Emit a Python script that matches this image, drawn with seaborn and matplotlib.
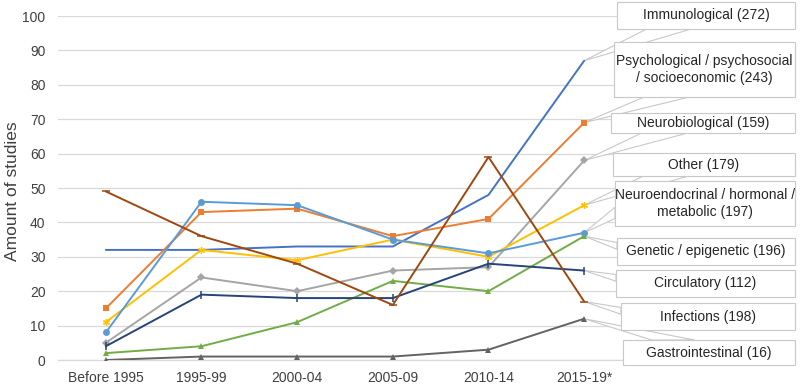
"""Studies per period by research area, with callout labels on the right."""

import matplotlib

matplotlib.use("Agg")
import matplotlib.pyplot as plt
from matplotlib.patches import Polygon, Rectangle
from matplotlib.transforms import Affine2D
import seaborn as sns

# Data
periods = ["Before 1995", "1995-99", "2000-04", "2005-09", "2010-14", "2015-19*"]

immunological = [32, 32, 33, 33, 48, 87]
psychological = [15, 43, 44, 36, 41, 69]
neurobiological = [5, 24, 20, 26, 27, 58]
other = [11, 32, 29, 35, 30, 45]
neuroendocrinal = [8, 46, 45, 35, 31, 37]
genetic = [2, 4, 11, 23, 20, 36]
circulatory = [4, 19, 18, 18, 28, 26]
infections = [49, 36, 28, 16, 59, 17]
gastrointestinal = [0, 1, 1, 1, 3, 12]

callout_texts = [
    "Immunological (272)",
    "Psychological / psychosocial\n/ socioeconomic (243)",
    "Neurobiological (159)",
    "Other (179)",
    "Neuroendocrinal / hormonal /\nmetabolic (197)",
    "Genetic / epigenetic (196)",
    "Circulatory (112)",
    "Infections (198)",
    "Gastrointestinal (16)",
]

# Styles: colour, marker, marker size, marker edge width
series = [
    (immunological, "#4472C4", "", 0, 0),
    (psychological, "#ED7D31", "s", 4.5, 0),
    (neurobiological, "#A5A5A5", "D", 4.2, 0),
    (other, "#FFC000", (6, 2, 0), 5, 0.9),
    (neuroendocrinal, "#5B9BD5", "o", 5, 0),
    (genetic, "#70AD47", "^", 5, 0),
    (circulatory, "#264478", "|", 6, 1.1),
    (infections, "#9E480E", "_", 6, 1.1),
    (gastrointestinal, "#636363", "^", 5, 0),
]

# Callout boxes in pixels (left, top, right, bottom), y measured from the top
boxes = [
    (617, 2, 795, 29),
    (614, 42, 795, 97),
    (611, 113, 795, 133),
    (613, 153, 795, 176),
    (615, 181, 795, 226),
    (617, 238, 795, 265),
    (616, 270, 795, 297),
    (621, 303, 795, 330),
    (623, 340, 795, 365),
]

W, H = 800, 388
GRID = "#D9D9D9"
EDGE = "#C8C8C8"
TEXT = "#404040"


def wedge_base(box, tip):
    """Base of an Office style wedge callout (box in y-up pixels)."""
    l, b, r, t = box
    w, h = r - l, t - b
    dx = tip[0] - (l + r) / 2
    dy = tip[1] - (b + t) / 2
    if abs(dy) / h > abs(dx) / w:
        f1, f2 = (7, 10) if dx > 0 else (2, 5)
        y = t if dy > 0 else b
        return [(l + w * f1 / 12, y), (l + w * f2 / 12, y)]
    x = r if dx > 0 else l
    if dy > 0:
        return [(x, t - h * 2 / 12), (x, t - h * 5 / 12)]
    return [(x, t - h * 7 / 12), (x, t - h * 10 / 12)]


sns.set_style("white")
plt.rcParams["font.family"] = ["Liberation Sans", "DejaVu Sans"]

fig = plt.figure(figsize=(W / 100, H / 100), dpi=100)
ax = fig.add_axes([58 / W, 28 / H, 574 / W, 344 / H])

xpos = list(range(len(periods)))
for vals, color, marker, msize, mew in series:
    sns.lineplot(
        x=xpos,
        y=vals,
        color=color,
        marker=marker if marker else None,
        markersize=msize,
        markeredgewidth=mew,
        markeredgecolor=color,
        linewidth=1.4,
        ax=ax,
        zorder=4,
    )

ax.set_xlim(-0.5, len(periods) - 0.5)
ax.set_ylim(0, 100)
ax.set_xticks(xpos)
ax.set_xticklabels(periods)
ax.set_yticks(range(0, 101, 10))
ax.tick_params(axis="both", length=0, labelsize=10, labelcolor=TEXT)
ax.tick_params(axis="x", pad=8)
ax.tick_params(axis="y", pad=9)
ax.yaxis.grid(True, color=GRID, linewidth=0.9)
ax.set_axisbelow(True)
for side in ["top", "right", "left"]:
    ax.spines[side].set_visible(False)
ax.spines["bottom"].set_color(GRID)
ax.spines["bottom"].set_linewidth(0.9)
ax.set_ylabel("")
fig.text(
    13 / W, 197 / H, "Amount of studies",
    rotation=90, ha="center", va="center", fontsize=12.5, color=TEXT,
)

# Callouts, in figure pixels (y up)
pix = Affine2D().scale(1 / W, 1 / H) + fig.transFigure
last = len(periods) - 1
for (vals, *_), box in zip(series, boxes):
    l, t, r, b = box
    box_up = (l, H - b, r, H - t)
    tip = tuple(ax.transData.transform((last, vals[-1])))
    base = wedge_base(box_up, tip)
    ax.add_patch(
        Polygon(
            [tip, base[0], base[1]],
            closed=True,
            facecolor="white",
            edgecolor=EDGE,
            linewidth=0.8,
            transform=pix,
            clip_on=False,
            zorder=3,
        )
    )

for box, text in zip(boxes, callout_texts):
    l, t, r, b = box
    ax.add_patch(
        Rectangle(
            (l, H - b),
            r - l,
            b - t,
            facecolor="white",
            edgecolor=EDGE,
            linewidth=0.8,
            transform=pix,
            clip_on=False,
            zorder=5,
        )
    )
    ax.text(
        (l + r) / 2,
        H - (t + b) / 2,
        text,
        transform=pix,
        ha="center",
        va="center",
        fontsize=10,
        color="#262626",
        linespacing=1.35,
        clip_on=False,
        zorder=6,
    )

fig.savefig("out.png", dpi=100)
